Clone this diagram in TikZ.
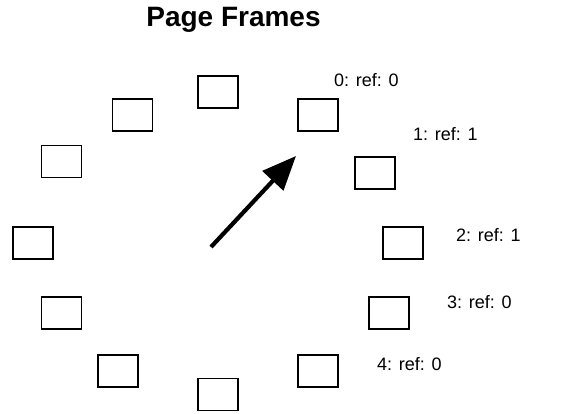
\documentclass[tikz,border=0pt]{standalone}
\usepackage{fontspec}
\setmainfont{Liberation Sans}
\usetikzlibrary{arrows.meta}
\begin{document}
\begin{tikzpicture}[x=1pt,y=-1pt,
  frame/.style={draw=black,line width=1.8pt,fill=white,minimum width=40pt,minimum height=32pt,inner sep=0pt},
  reflabel/.style={anchor=base west,inner sep=0pt,font=\fontsize{18}{20}\selectfont},
  pointer/.style={line width=4.2pt,-{Triangle[length=34pt,width=28pt]}}]
\useasboundingbox (0,0) rectangle (587,414);
% title
\node[anchor=base,inner sep=0pt,font=\fontsize{28}{32}\selectfont\bfseries] (title) at (233.5,27) {Page Frames};
% ring of page frames
\node[frame] (f0) at (318,115) {};
\node[frame] (f1) at (375,173) {};
\node[frame] (f2) at (403,243) {};
\node[frame] (f3) at (389,313) {};
\node[frame] (f4) at (318,371) {};
\node[frame] (f5) at (218,394.5) {};
\node[frame] (f6) at (118,371) {};
\node[frame] (f7) at (61.5,313) {};
\node[frame] (f8) at (33,243) {};
\node[frame] (f9) at (61.5,161.5) {};
\node[frame] (f10) at (132.5,115) {};
\node[frame] (f11) at (218,92) {};
% reference counts
\node[reflabel] (l0) at (334,86.5) {0: ref: 0};
\node[reflabel] (l1) at (413,140.5) {1: ref: 1};
\node[reflabel] (l2) at (456,241.5) {2: ref: 1};
\node[reflabel] (l3) at (447,308.5) {3: ref: 0};
\node[reflabel] (l4) at (377,370.5) {4: ref: 0};
% clock hand
\coordinate (handtail) at (211,247);
\coordinate (handtip) at (296,156);
\draw[pointer] (handtail) -- (handtip);
\end{tikzpicture}
\end{document}
